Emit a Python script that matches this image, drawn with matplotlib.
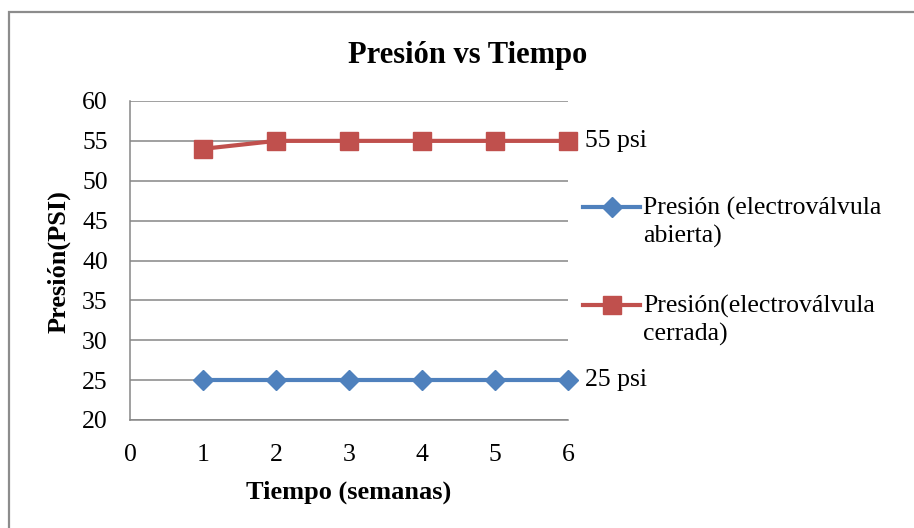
import matplotlib.pyplot as plt
from matplotlib.patches import Rectangle
from matplotlib.lines import Line2D

plt.rcParams['font.family'] = ['Liberation Serif', 'DejaVu Serif']

semanas = [1, 2, 3, 4, 5, 6]
abierta = [25, 25, 25, 25, 25, 25]
cerrada = [54, 55, 55, 55, 55, 55]
yticks = [20, 25, 30, 35, 40, 45, 50, 55, 60]
xticks = [0, 1, 2, 3, 4, 5, 6]

azul = '#4f81bd'
rojo = '#c0504d'
gris = '#868686'

fig = plt.figure(figsize=(9.14, 5.28), dpi=100)
ax = fig.add_axes([130 / 914, 1 - 420 / 528, 438 / 914, 319 / 528])

# marco exterior del grafico
fig.add_artist(Rectangle((8.5 / 914, -0.1), 2, (528 - 12.5) / 528 + 0.1,
                         transform=fig.transFigure, fill=False,
                         edgecolor='#8c8c8c', lw=1.6))

ax.plot(semanas, abierta, color=azul, lw=3, marker='D', ms=10,
        clip_on=False, zorder=3)
ax.plot(semanas, cerrada, color=rojo, lw=3, marker='s', ms=13,
        clip_on=False, zorder=3)

ax.annotate('55 psi', (semanas[-1], cerrada[-1]), xytext=(12, 0),
            textcoords='offset points', ha='left', va='center', fontsize=18.5)
ax.annotate('25 psi', (semanas[-1], abierta[-1]), xytext=(12, 0),
            textcoords='offset points', ha='left', va='center', fontsize=18.5)

ax.set_xlim(0, 6)
ax.set_ylim(20, 60)
ax.set_xticks(xticks)
ax.set_yticks(yticks)
ax.tick_params(length=0, labelsize=18.5)
ax.tick_params(axis='y', pad=16)
ax.tick_params(axis='x', pad=17)
ax.grid(axis='y', color=gris, lw=1.1)
ax.set_axisbelow(True)
for s in ['top', 'right']:
    ax.spines[s].set_visible(False)
ax.spines['left'].set_color(gris)
ax.spines['left'].set_linewidth(1.1)
ax.spines['bottom'].set_color(gris)
ax.spines['bottom'].set_linewidth(1.1)

ax.set_xlabel('Tiempo (semanas)', fontsize=19, fontweight='bold')
ax.xaxis.set_label_coords(0.5, (420 - 492) / 319)
ax.xaxis.label.set_va('center')
ax.set_ylabel('Presión(PSI)', fontsize=19, fontweight='bold')
ax.yaxis.set_label_coords((59 - 130) / 438, (420 - 262) / 319)
ax.yaxis.label.set_va('center')

fig.text(468 / 914, 1 - 55 / 528, 'Presión vs Tiempo', fontsize=22,
         fontweight='bold', ha='center', va='center')

# leyenda a la derecha
leyenda = [(azul, 'D', 10, 'Presión (electroválvula\nabierta)', 207),
           (rojo, 's', 13, 'Presión(electroválvula\ncerrada)', 305)]
for color, mk, ms, texto, py in leyenda:
    y = (420 - py) / 319
    ax.add_line(Line2D([1.034, 1.1, 1.164], [y, y, y], transform=ax.transAxes,
                       color=color, lw=3, marker=mk, ms=ms, markevery=[1],
                       clip_on=False))
    ax.text(1.172, y - 15.5 / 319, texto, transform=ax.transAxes,
            ha='left', va='center', fontsize=18.5, linespacing=1.32)

fig.savefig('out.png', dpi=100)
